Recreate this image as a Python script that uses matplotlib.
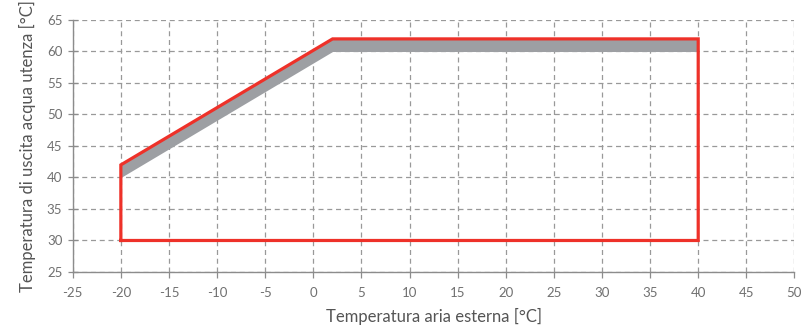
import matplotlib
matplotlib.use("Agg")
import matplotlib.pyplot as plt

# Data
envelope_x = [-20, -20, 2, 40, 40, -20]
envelope_y = [30, 42, 62, 62, 30, 30]
band_x = [-20, 2, 40]
band_low = [40, 60, 60]
band_high = [42, 62, 62]
xticks = list(range(-25, 51, 5))
yticks = list(range(25, 66, 5))

plt.rcParams['font.family'] = ['Lato', 'DejaVu Sans']
plt.rcParams['axes.unicode_minus'] = False

fig = plt.figure(figsize=(8.01, 3.30), dpi=100)
ax = fig.add_axes([0.0908, 0.1758, 0.9010, 0.7636])

ax.fill_between(band_x, band_low, band_high, color='#9d9fa3', linewidth=0, zorder=2)
ax.plot(envelope_x, envelope_y, color='#ee3129', linewidth=2.3, zorder=3,
        solid_joinstyle='miter')

ax.set_xlim(-25, 50)
ax.set_ylim(25, 65)
ax.set_xticks(xticks)
ax.set_yticks(yticks)
ax.set_xticklabels([str(v) for v in xticks])
ax.set_yticklabels([str(v) for v in yticks])
ax.grid(True, color='#999999', linestyle=(0, (4, 3)), linewidth=0.9, zorder=1)
ax.set_axisbelow(True)

for s in ['top', 'right']:
    ax.spines[s].set_visible(False)
for s in ['left', 'bottom']:
    ax.spines[s].set_color('#8c8c8c')
    ax.spines[s].set_linewidth(1.0)

ax.tick_params(axis='both', colors='#8c8c8c', labelcolor='#707070',
               labelsize=9.5, length=4, width=0.9, pad=4)
ax.tick_params(axis='x', pad=7)
ax.tick_params(axis='y', direction='inout', length=7)

ax.set_xlabel('Temperatura aria esterna [°C]', fontsize=12, color='#555555', labelpad=6)
ax.set_ylabel('Temperatura di uscita acqua utenza [°C]', fontsize=12, color='#555555', labelpad=8)

fig.savefig('out.png', dpi=100)
